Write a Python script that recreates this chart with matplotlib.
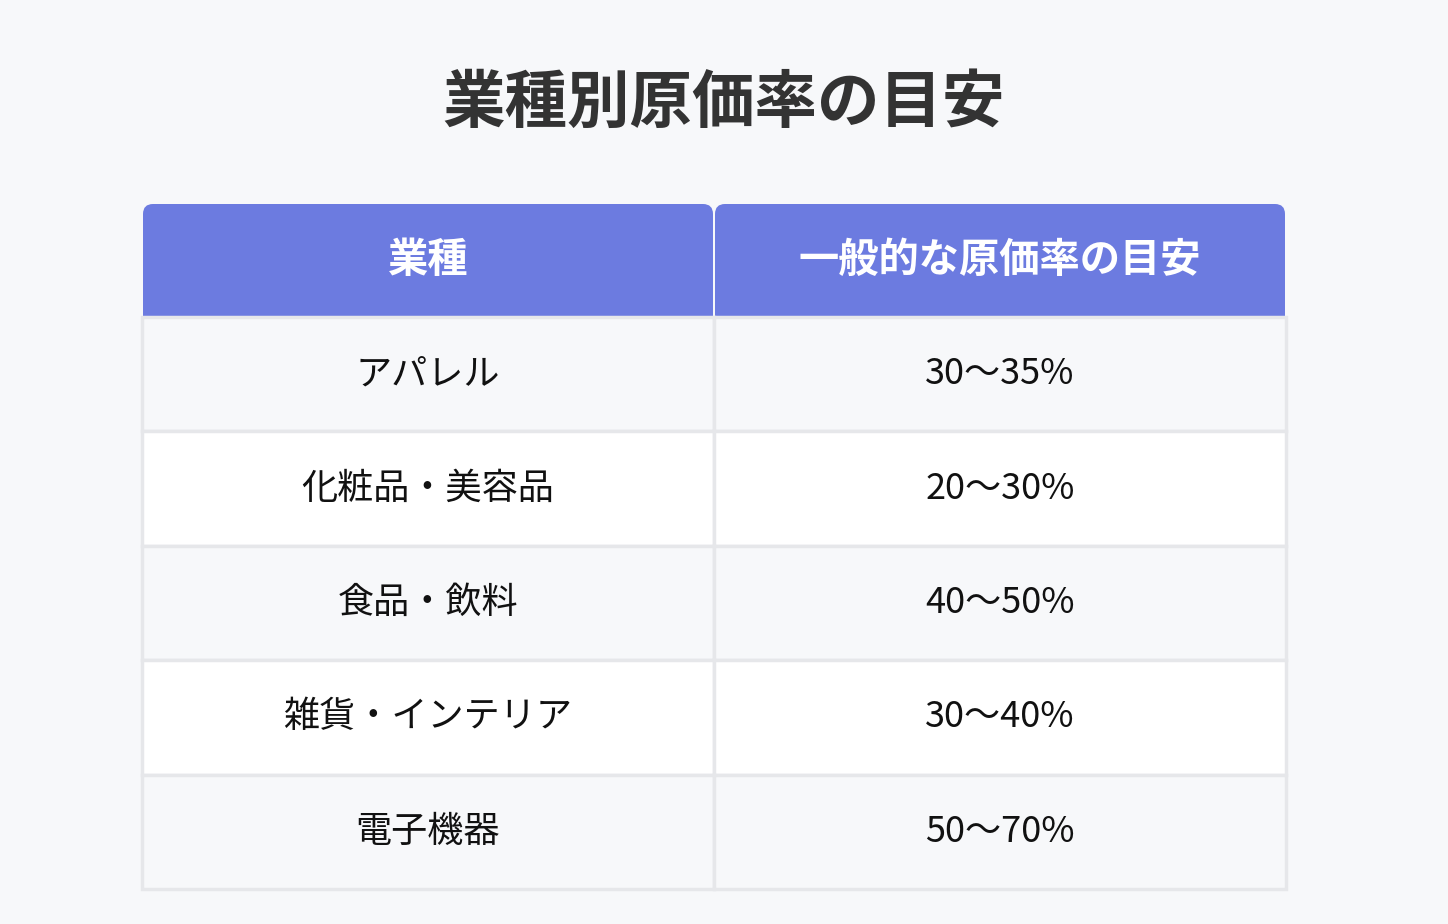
import matplotlib
matplotlib.use("Agg")
import matplotlib.pyplot as plt
from matplotlib.patches import FancyBboxPatch, Rectangle

plt.rcParams['font.family'] = ['Noto Sans CJK JP', 'DejaVu Sans']

title = "業種別原価率の目安"
headers = ["業種", "一般的な原価率の目安"]
industries = ["アパレル", "化粧品・美容品", "食品・飲料", "雑貨・インテリア", "電子機器"]
ratios = ["30〜35%", "20〜30%", "40〜50%", "30〜40%", "50〜70%"]

W, H = 1448, 924
fig = plt.figure(figsize=(W/100, H/100), dpi=100)
fig.patch.set_facecolor("#f7f8fa")
ax = fig.add_axes([0, 0, 1, 1])
ax.set_xlim(0, W); ax.set_ylim(H, 0); ax.axis("off")

ax.text(W/2, 103, title, ha="center", va="center", fontsize=45, fontweight="bold", color="#333333")

cols = [(142, 714), (714, 1286)]
hy0, hy1 = 204, 317
for (x0, x1), h in zip(cols, headers):
    ax.add_patch(FancyBboxPatch((x0+1, hy0), x1-x0-2, hy1-hy0, boxstyle="round,pad=0,rounding_size=10",
                                fc="#6c7be0", ec="none"))
    ax.add_patch(Rectangle((x0+1, hy0+20), x1-x0-2, hy1-hy0-20, fc="#6c7be0", ec="none"))
    ax.text((x0+x1)/2, (hy0+hy1)/2, h, ha="center", va="center", fontsize=29, fontweight="bold", color="white")

row_h = 114.4
for i, (a, b) in enumerate(zip(industries, ratios)):
    y0 = hy1 + i*row_h
    fc = "#f7f8fa" if i % 2 == 0 else "white"
    for (x0, x1), t in zip(cols, [a, b]):
        ax.add_patch(Rectangle((x0, y0), x1-x0, row_h, fc=fc, ec="#e6e7ea", lw=2.5))
        ax.text((x0+x1)/2, y0+row_h/2, t, ha="center", va="center", fontsize=26, color="#111111")

fig.savefig("out.png", dpi=100, facecolor=fig.get_facecolor())
